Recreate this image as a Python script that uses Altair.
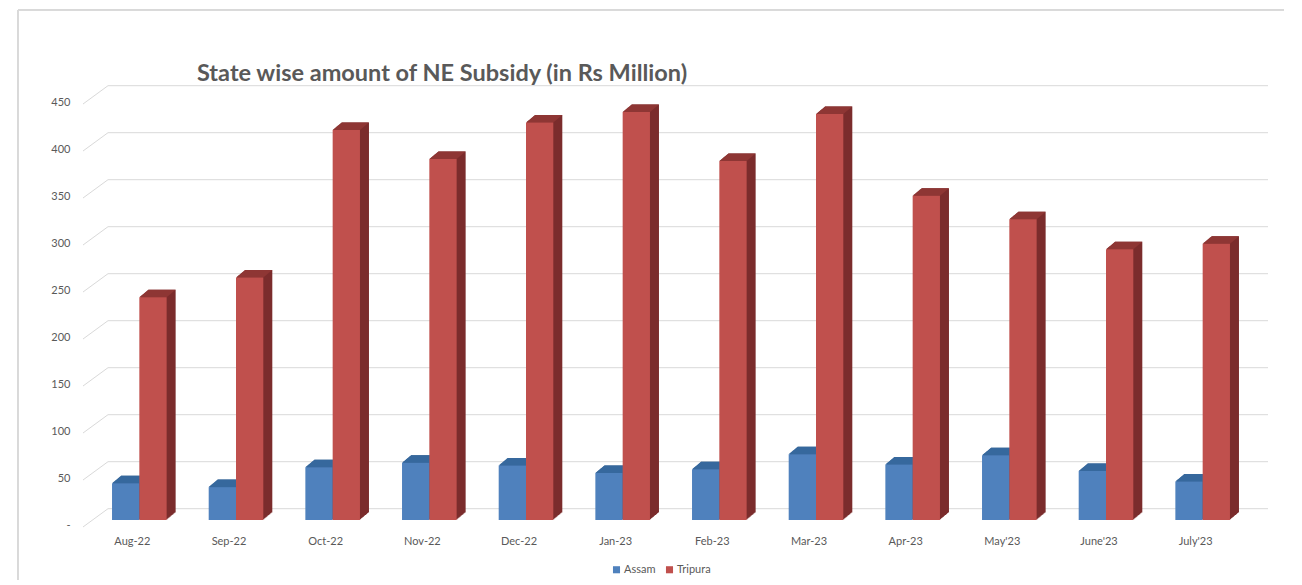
import altair as alt
import pandas as pd

months = ["Aug-22", "Sep-22", "Oct-22", "Nov-22", "Dec-22", "Jan-23",
          "Feb-23", "Mar-23", "Apr-23", "May'23", "June'23", "July'23"]
assam = [39, 35, 56, 61, 58, 50, 54, 70, 59, 69, 52, 41]
tripura = [237, 258, 415, 384, 423, 434, 382, 432, 345, 320, 288, 294]
series_names = ["Assam", "Tripura"]
front_colors = ["#4f81bd", "#c0504d"]
tick_values = [0, 50, 100, 150, 200, 250, 300, 350, 400, 450]
title_text = "State wise amount of NE Subsidy (in Rs Million)"

rows = []
for i, m in enumerate(months):
    rows.append({"month": m, "series": "Assam", "value": assam[i]})
    rows.append({"month": m, "series": "Tripura", "value": tripura[i]})
df = pd.DataFrame(rows)
ticks = pd.DataFrame({"tick": tick_values})
title_df = pd.DataFrame({"t": [title_text]})

W, H = 1160, 423
FONT = "Lato"
GRID = "#d9d9d9"
DX, DY = 9, 7.5          # depth of the 3D bars
SHIFT = 7                # bars sit slightly right of the label plane
PAD_IN = 0.435
BW2 = W / 12 * (1 - PAD_IN)   # width of a month's pair of bars
bw = BW2 / 2

xenc = alt.X("month:N", sort=months,
             scale=alt.Scale(paddingInner=PAD_IN, paddingOuter=PAD_IN / 2),
             axis=alt.Axis(title=None, labelAngle=0, domain=False, ticks=False,
                           labelPadding=15, labelFont=FONT, labelFontSize=11,
                           labelColor="#595959", grid=False))
yenc = alt.Y("value:Q", scale=alt.Scale(domain=[0, 450], nice=False, zero=True),
             axis=alt.Axis(title=None, values=tick_values, domain=False, ticks=False,
                           grid=False, labelPadding=14, labelOffset=5,
                           labelFont=FONT, labelFontSize=11, labelColor="#595959",
                           labelExpr="datum.value == 0 ? '-' : datum.label"))


def xoff(shift):
    return alt.XOffset("series:N", sort=series_names,
                       scale=alt.Scale(domain=series_names, paddingInner=0,
                                       paddingOuter=0, range=[shift, shift + BW2]))


def xoff_point(center):
    return alt.XOffset("series:N", sort=series_names,
                       scale=alt.Scale(type="point", domain=series_names, padding=0,
                                       range=[center, center + bw]))


base = alt.Chart(df)

# chart border (decoration)
border = alt.Chart(ticks).mark_rect(fill="transparent", stroke=GRID, strokeWidth=1).encode(
    x=alt.value(-66), x2=alt.value(W + 80), y=alt.value(-87), y2=alt.value(H + 90))

title = alt.Chart(title_df).mark_text(
    align="left", baseline="alphabetic", font=FONT, fontSize=23.5, fontWeight="bold",
    color="#595959").encode(text="t:N", x=alt.value(113), y=alt.value(-16))

# back-wall gridlines and their slanted connectors to the front plane
grid_back = alt.Chart(ticks).mark_rule(color=GRID, strokeWidth=1, yOffset=-11.3).encode(
    y=alt.Y("tick:Q"), x=alt.value(24), x2=alt.value(W + 24))
grid_slant = alt.Chart(ticks).mark_point(
    shape="M -1 0.732 L 1 -0.732", size=625, filled=False, stroke=GRID,
    strokeWidth=1, opacity=1, yOffset=-2.15).encode(
    y=alt.Y("tick:Q"), x=alt.value(11.5))

side_color = alt.condition(alt.datum.series == "Assam",
                           alt.value("#2f5b8c"), alt.value("#7b2c2c"))
top_color = alt.condition(alt.datum.series == "Assam",
                          alt.value("#36689d"), alt.value("#8e3634"))

steps = 9
extrusions = []
for k in range(1, steps + 1):
    extrusions.append(
        base.mark_bar(yOffset=-k * DY / steps).encode(
            x=xenc, xOffset=xoff(SHIFT + k * DX / steps), y=yenc, color=side_color))

s = (bw + DX) / 2
fx = -1 + bw / s
bx = -1 + DX / s
fy = (DY / 2) / s
top_path = f"M -1 {fy:.4f} L {fx:.4f} {fy:.4f} L 1 {-fy:.4f} L {bx:.4f} {-fy:.4f} Z"
tops = base.mark_point(shape=top_path, size=(2 * s) ** 2, filled=True, opacity=1,
                       strokeWidth=0, yOffset=-DY / 2).encode(
    x=xenc, xOffset=xoff_point(SHIFT + DX / 2 + bw / 2), y=yenc, color=top_color)

front = base.mark_bar().encode(
    x=xenc, xOffset=xoff(SHIFT), y=yenc,
    color=alt.Color("series:N", sort=series_names,
                    scale=alt.Scale(domain=series_names, range=front_colors),
                    legend=alt.Legend(title=None, orient="none", direction="horizontal",
                                      legendX=527, legendY=467, symbolType="square",
                                      symbolSize=50, symbolStrokeWidth=0,
                                      labelFont=FONT, labelFontSize=11,
                                      labelColor="#595959", columnPadding=8,
                                      labelOffset=2)))

chart = alt.layer(border, grid_back, grid_slant, *extrusions, tops, front, title).resolve_scale(
    xOffset="independent"
).properties(
    width=W, height=H,
    background="white",
    autosize=alt.AutoSizeParams(type="none"),
    padding={"left": 76, "top": 89, "right": 40, "bottom": 60},
).configure_view(strokeWidth=0)

chart.save("out.html", embed_options={"renderer": "svg", "actions": False})
